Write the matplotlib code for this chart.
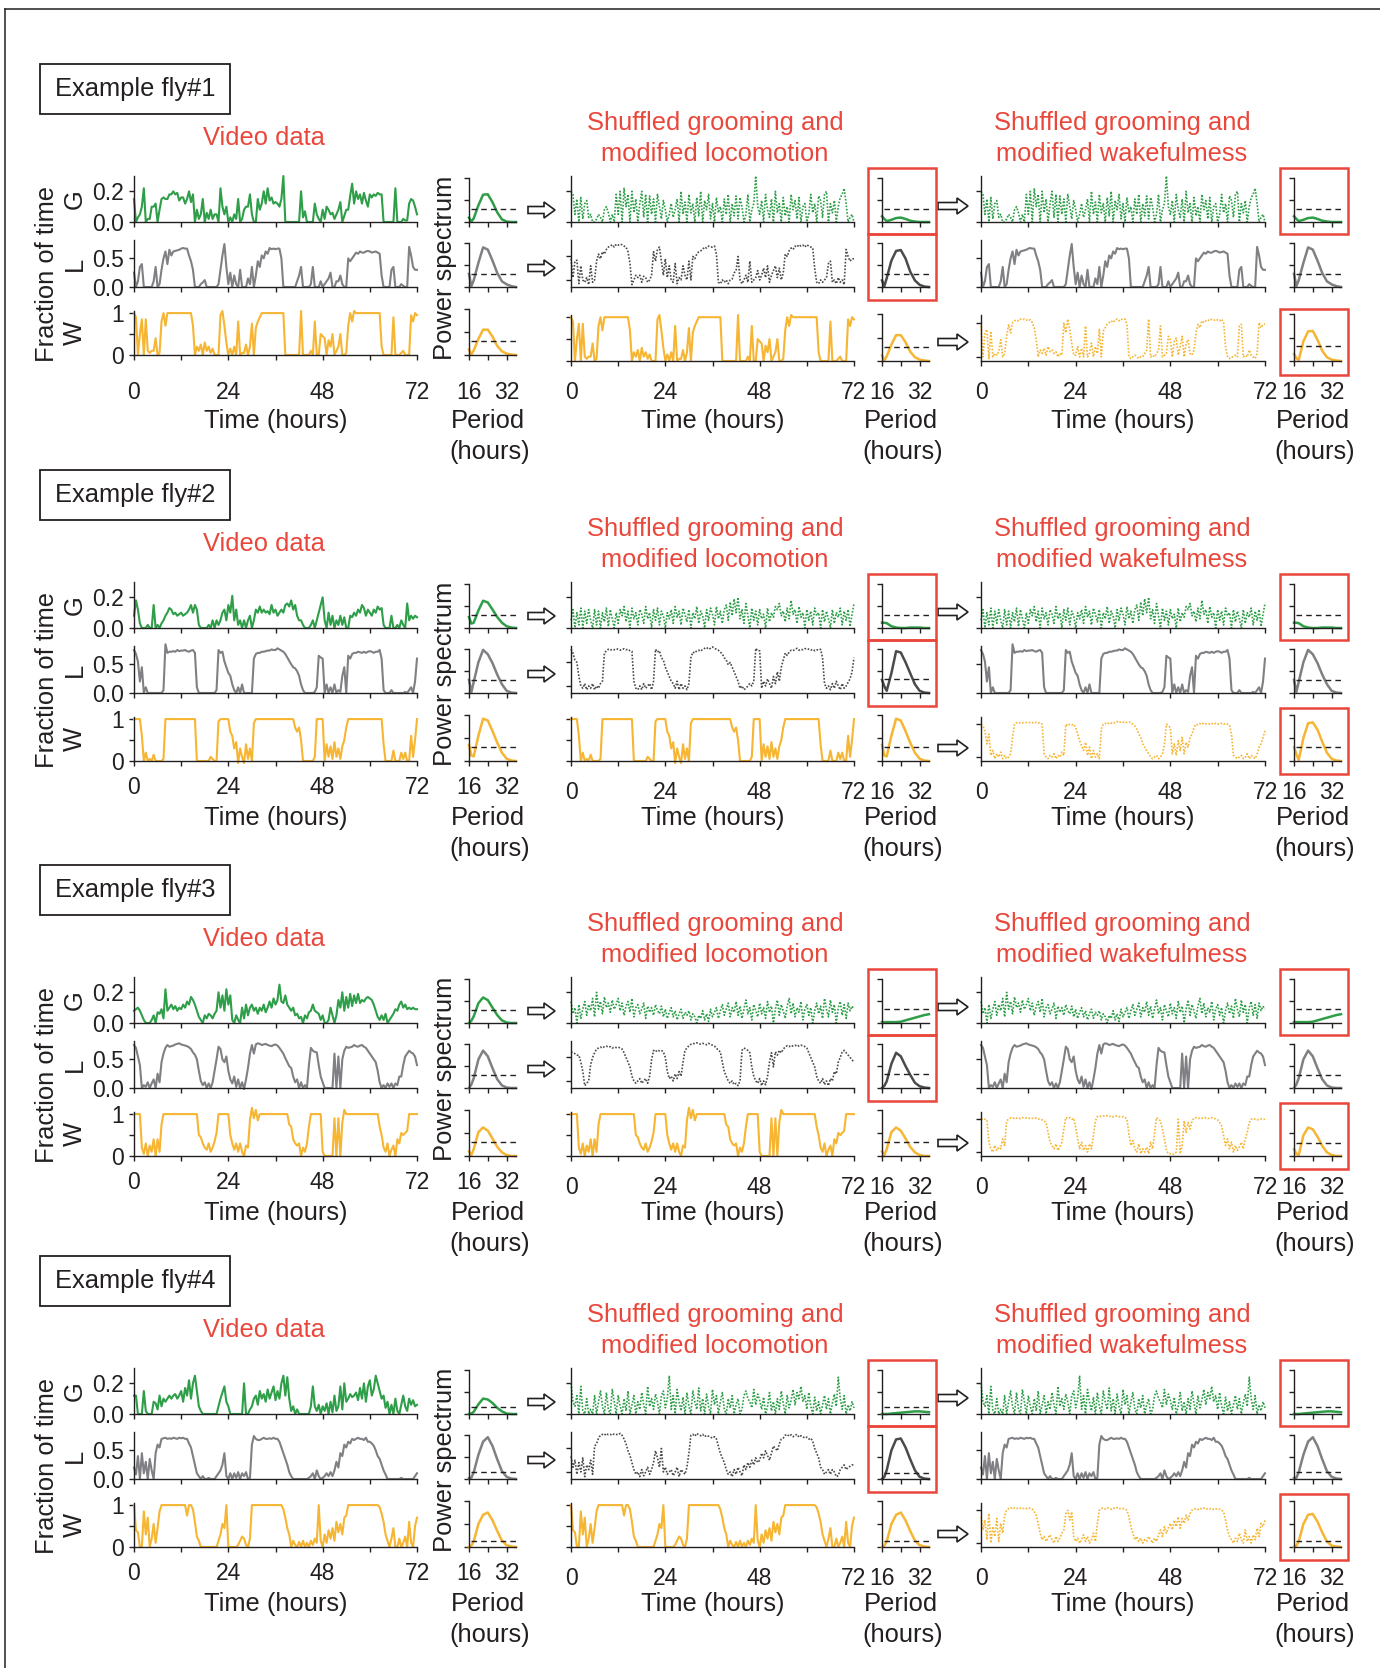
import numpy as np
import matplotlib
matplotlib.use('Agg')
import matplotlib.pyplot as plt
from matplotlib.patches import Rectangle, FancyArrow

plt.rcParams['font.family'] = ['Liberation Sans', 'DejaVu Sans']

W_PX, H_PX, DPI = 1380, 1668, 100

#------------------------ DATA
# time series: half-hour bins from 0 to 72 h, values in hundredths
# G = grooming, L = locomotion, W = wakefulness (video data)
# Gs = shuffled grooming, Lm = modified locomotion, Wm = modified wakefulness
fly1_G = [15, 0, 3, 5, 10, 22, 0, 2, 2, 10, 10, 12,
          0, 8, 15, 16, 15, 15, 18, 18, 20, 18, 19, 14,
          16, 16, 12, 15, 20, 13, 18, 0, 8, 2, 5, 15,
          0, 6, 2, 8, 2, 5, 5, 0, 22, 10, 5, 10,
          0, 3, 0, 5, 2, 15, 0, 2, 8, 10, 10, 18,
          5, 0, 0, 15, 8, 12, 20, 12, 22, 14, 16, 12,
          13, 12, 10, 15, 30, 0, 0, 0, 0, 0, 0, 0,
          0, 20, 3, 7, 0, 0, 0, 0, 12, 5, 2, 0,
          8, 2, 10, 8, 5, 6, 2, 5, 8, 13, 0, 4,
          8, 8, 17, 25, 12, 20, 15, 18, 12, 19, 14, 10,
          18, 16, 18, 17, 19, 18, 18, 0, 0, 0, 0, 0,
          0, 22, 0, 0, 0, 2, 1, 1, 12, 15, 14, 10,
          5]
fly1_L = [25, 0, 10, 35, 40, 0, 0, 0, 0, 0, 10, 35,
          0, 5, 30, 50, 62, 40, 65, 55, 62, 63, 64, 65,
          67, 68, 67, 67, 55, 45, 30, 0, 0, 0, 5, 8,
          12, 0, 0, 0, 0, 0, 0, 5, 30, 55, 75, 35,
          5, 25, 0, 20, 5, 0, 30, 0, 0, 0, 15, 5,
          35, 0, 20, 45, 35, 55, 50, 62, 58, 68, 66, 67,
          66, 67, 67, 50, 0, 0, 0, 0, 0, 0, 0, 10,
          20, 35, 0, 0, 0, 0, 5, 35, 0, 0, 0, 10,
          0, 5, 10, 15, 25, 0, 0, 10, 10, 20, 5, 0,
          0, 50, 45, 50, 55, 60, 58, 62, 60, 60, 62, 63,
          62, 60, 61, 62, 60, 58, 20, 0, 0, 0, 0, 30,
          35, 0, 0, 0, 5, 2, 0, 0, 70, 55, 35, 30,
          30]
fly1_W = [100, 90, 0, 50, 85, 0, 85, 10, 5, 10, 10, 40,
          0, 5, 80, 100, 70, 100, 100, 100, 100, 100, 100, 100,
          100, 100, 100, 100, 100, 100, 70, 0, 20, 10, 25, 0,
          30, 10, 20, 5, 15, 0, 0, 0, 95, 105, 70, 30,
          0, 15, 0, 20, 0, 80, 0, 5, 5, 25, 0, 20,
          75, 0, 65, 80, 90, 100, 100, 100, 100, 100, 100, 100,
          100, 100, 100, 100, 100, 0, 0, 0, 0, 0, 0, 0,
          0, 105, 0, 0, 0, 0, 10, 0, 80, 0, 0, 50,
          45, 40, 0, 35, 20, 50, 0, 10, 20, 50, 0, 0,
          5, 70, 100, 80, 105, 100, 100, 100, 100, 100, 100, 100,
          100, 100, 100, 100, 100, 100, 20, 0, 0, 0, 0, 0,
          90, 0, 0, 0, 5, 10, 0, 0, 0, 95, 80, 100,
          95]
fly1_Gs = [20, 18, 5, 15, 0, 16, 2, 12, 14, 3, 5, 0,
           0, 2, 5, 3, 0, 8, 10, 6, 0, 5, 0, 18,
           5, 20, 0, 22, 10, 18, 0, 20, 6, 15, 0, 12,
           20, 3, 18, 0, 17, 5, 15, 0, 18, 10, 2, 14,
           8, 0, 5, 12, 3, 8, 15, 0, 20, 5, 13, 0,
           18, 6, 12, 0, 16, 4, 20, 0, 14, 8, 18, 2,
           12, 0, 16, 6, 10, 0, 15, 5, 18, 0, 12, 4,
           17, 2, 16, 10, 0, 5, 18, 0, 8, 12, 30, 10,
           5, 14, 0, 18, 8, 3, 15, 0, 20, 6, 12, 0,
           16, 4, 10, 0, 18, 8, 14, 2, 16, 0, 10, 12,
           0, 5, 18, 6, 12, 0, 17, 14, 3, 18, 20, 0,
           12, 6, 14, 0, 10, 16, 18, 22, 12, 0, 3, 5,
           0]
fly1_Lm = [45, 5, 40, 42, -8, 30, 0, -5, 5, -10, 30, -5,
           0, 40, 55, 45, 60, 55, 65, 70, 72, 75, 70, 76,
           74, 76, 75, 72, 70, 60, 35, -10, 0, 10, 5, 10,
           -5, 8, 5, -5, 0, 10, 60, 40, 65, 70, 40, 10,
           45, 5, 30, 0, -5, 35, -8, 5, 0, 30, 10, 0,
           40, 0, 50, 45, 55, 60, 62, 65, 70, 68, 72, 70,
           70, 72, 55, -5, -8, 0, -5, 0, -8, 0, 2, 15,
           20, 50, 0, -8, 0, 10, -5, 40, -5, 0, 5, 20,
           0, 10, 25, 5, 30, -5, 10, 20, 30, 5, 25, 0,
           15, 55, 50, 62, 68, 65, 72, 70, 75, 72, 74, 70,
           75, 72, 70, 68, 25, -5, -8, 0, -5, 0, 5, 35,
           40, -5, 0, -8, 5, -5, 0, -10, 65, 50, 40, 45,
           45]
fly1_Wm = [90, 0, 70, 80, -5, 75, 0, 10, 5, 15, 50, 0,
           10, 60, 95, 70, 100, 105, 108, 105, 110, 108, 110, 108,
           105, 108, 100, 85, 50, 0, 20, 10, 25, 5, 30, 15,
           20, 10, 15, 0, 10, 5, 100, 70, 110, 80, 40, 5,
           5, 30, 0, 25, 0, 90, 0, 10, 40, 0, 30, 10,
           80, 0, 75, 85, 95, 100, 105, 100, 108, 110, 105, 110,
           108, 110, 95, 0, -5, 0, 5, 0, -5, 0, 0, 10,
           20, 110, 0, 5, 0, 10, 20, 90, 0, 5, 10, 60,
           50, 0, 45, 55, 5, 30, 60, 0, 40, 50, 10, 5,
           20, 70, 95, 85, 105, 100, 105, 108, 105, 110, 108, 105,
           108, 105, 110, 100, 30, 0, -5, 0, 0, 5, 0, 90,
           95, 0, 5, 0, 20, 5, 0, -5, 10, 100, 85, 95,
           95]

fly2_G = [8, 18, 12, 3, 0, 0, 0, 2, 0, 0, 15, 0,
          2, 0, 3, 5, 8, 10, 13, 12, 9, 10, 8, 9,
          10, 8, 9, 10, 12, 15, 10, 15, 12, 2, 0, 0,
          0, 0, 2, 0, 5, 0, 5, 2, 5, 10, 12, 5,
          15, 10, 21, 5, 12, 2, 5, 0, 5, 0, 5, 8,
          0, 5, 12, 10, 14, 10, 12, 10, 11, 9, 15, 10,
          12, 8, 10, 12, 10, 15, 16, 14, 18, 12, 15, 8,
          5, 5, 2, 0, 0, 0, 2, 5, 0, 5, 10, 15,
          20, 5, 0, 10, 2, 8, 0, 5, 2, 8, 2, 7,
          0, 0, 8, 7, 10, 8, 12, 10, 15, 13, 8, 12,
          10, 8, 12, 10, 14, 12, 13, 2, 0, 0, 0, 8,
          0, 0, 2, 0, 5, 2, 0, 16, 5, 8, 6, 8,
          7]
fly2_L = [75, 68, 55, 20, 45, 0, 10, 0, 0, 0, 0, 0,
          0, 0, 0, 5, 85, 70, 72, 72, 73, 72, 75, 73,
          74, 74, 75, 73, 72, 74, 75, 70, 10, 0, 0, 0,
          0, 0, 0, 0, 0, 0, 5, 75, 70, 72, 55, 45,
          35, 30, 15, 5, 0, 10, 0, 15, 0, 0, 0, 0,
          0, 60, 68, 70, 70, 72, 72, 73, 74, 74, 76, 75,
          75, 78, 76, 74, 72, 68, 62, 56, 50, 45, 43, 38,
          30, 15, 5, 0, 0, 0, 0, 0, 2, 10, 65, 62,
          60, 0, 15, 0, 10, 0, 15, 0, 5, 2, 30, 45,
          0, 65, 60, 68, 70, 70, 72, 71, 70, 72, 70, 72,
          73, 72, 70, 72, 72, 75, 60, 5, 0, 0, 0, 5,
          0, 0, 0, 0, 0, 0, 2, 0, 5, 10, 0, 20,
          60]
fly2_W = [100, 100, 100, 100, 60, 0, 20, 0, 5, 0, 15, 0,
          0, 0, 0, 5, 100, 100, 100, 100, 100, 100, 100, 100,
          100, 100, 100, 100, 100, 100, 100, 100, 0, 0, 0, 0,
          0, 0, 0, 10, 5, 0, 0, 95, 100, 100, 100, 100,
          100, 70, 60, 30, 45, -5, 30, 10, -5, 40, 5, 30,
          0, 90, 100, 100, 100, 100, 100, 100, 100, 100, 100, 100,
          100, 100, 100, 100, 100, 100, 100, 100, 100, 100, 80, 70,
          80, 50, 0, 0, 0, 0, 0, 0, 10, 100, 100, 100,
          100, 0, 40, 10, 35, 5, 45, 10, 30, 5, 35, 50,
          80, 100, 100, 100, 100, 100, 100, 100, 100, 100, 100, 100,
          100, 100, 100, 100, 100, 100, 100, 40, 0, 0, 0, 0,
          25, 0, 0, 0, 20, 5, 20, 0, 0, 60, 10, 50,
          100]
fly2_Gs = [5, 12, 0, 10, 2, 13, 0, 11, 3, 12, 5, 0,
           12, 2, 11, 0, 10, 4, 13, 1, 12, 6, 0, 10,
           3, 12, 8, 14, 4, 11, 0, 13, 6, 10, 2, 12,
           9, 3, 14, 6, 10, 0, 12, 5, 13, 2, 11, 8,
           0, 10, 6, 12, 3, 14, 7, 11, 2, 13, 9, 4,
           12, 0, 10, 6, 14, 3, 11, 8, 0, 12, 5, 13,
           9, 2, 14, 6, 11, 3, 12, 15, 5, 17, 8, 19,
           10, 20, 6, 12, 3, 16, 8, 0, 13, 5, 11, 2,
           12, 6, 9, 0, 13, 4, 10, 7, 14, 12, 16, 8,
           11, 4, 13, 6, 18, 9, 12, 3, 14, 7, 10, 0,
           12, 5, 11, 2, 13, 8, 10, 0, 12, 4, 11, 6,
           0, 12, 3, 10, 7, 13, 2, 11, 5, 12, 1, 9,
           16]
fly2_Lm = [78, 70, 55, 50, 20, 0, -5, 5, -8, 0, -5, 5,
           -8, 0, -5, 5, 10, 70, 75, 78, 76, 78, 77, 79,
           78, 76, 78, 79, 77, 78, 75, 74, 10, -5, -8, 0,
           -8, 5, -5, 0, 5, -8, 10, 78, 72, 75, 60, 55,
           40, 30, 20, 10, 5, -5, 10, -8, 5, -5, 0, -8,
           5, 60, 72, 70, 75, 76, 74, 78, 80, 82, 78, 80,
           83, 80, 78, 76, 72, 68, 60, 55, 45, 50, 40, 30,
           20, 10, -5, 0, -8, -5, 0, 5, 0, 10, 80, 75,
           75, -5, 10, 0, 15, 5, -5, 20, 5, 30, 10, 40,
           55, 70, 65, 72, 76, 75, 78, 80, 76, 78, 77, 79,
           80, 78, 76, 78, 75, 77, 76, 78, 60, 5, -5, 0,
           -8, 5, -5, 10, 0, -8, 5, -5, 0, 8, 15, 30,
           60]
fly2_Wm = [100, 95, 80, 40, 70, 5, 20, -5, 10, 0, 15, -5,
           5, -5, 0, 10, 60, 100, 105, 103, 105, 104, 106, 105,
           104, 106, 105, 103, 106, 104, 105, 100, 10, 0, -5, 5,
           0, 10, -5, 5, 0, 15, 5, 100, 95, 100, 98, 100,
           90, 70, 50, 35, 20, 45, 5, 30, -5, 20, 0, 10,
           -5, 85, 100, 103, 100, 105, 103, 106, 104, 108, 105, 107,
           106, 108, 105, 107, 104, 100, 95, 85, 70, 60, 40, 30,
           20, 10, 0, -5, 0, 5, -5, 0, 10, 40, 100, 95,
           90, 10, 40, 5, 50, 20, 60, 10, 45, 30, 60, 70,
           90, 100, 98, 102, 100, 104, 101, 103, 100, 102, 99, 103,
           101, 100, 103, 100, 102, 100, 98, 70, 5, 0, -5, 0,
           5, -5, 0, 10, -5, 5, 0, -5, 10, 30, 40, 60,
           80]

fly3_G = [8, 9, 10, 8, 5, 2, 0, 0, 0, 2, 5, 0,
          7, 6, 9, 3, 22, 8, 10, 12, 9, 11, 8, 10,
          9, 12, 10, 14, 12, 17, 15, 12, 8, 4, 2, 0,
          5, 3, 6, 5, 3, 6, 8, 20, 10, 18, 8, 22,
          12, 18, 2, 0, 5, 2, 0, 10, 3, 12, 5, 10,
          12, 8, 10, 6, 10, 8, 12, 7, 10, 14, 10, 16,
          12, 15, 25, 14, 13, 18, 12, 10, 8, 10, 5, 6,
          3, 4, 0, 5, 3, 7, 8, 12, 8, 7, 6, 2,
          5, 0, 0, 2, 10, 5, 0, 5, 15, 10, 20, 8,
          17, 10, 19, 11, 18, 13, 19, 13, 15, 14, 16, 17,
          16, 15, 12, 8, 4, 2, 5, 2, 6, 0, 2, 4,
          6, 9, 8, 12, 14, 10, 12, 9, 10, 9, 10, 9,
          9]
fly3_L = [75, 70, 55, 40, 0, 5, 2, 10, 0, 8, 15, 0,
          25, 10, 45, 60, 70, 75, 72, 73, 74, 76, 77, 78,
          76, 75, 74, 73, 71, 68, 62, 58, 50, 30, 12, 5,
          10, 0, 8, 0, 10, 30, 50, 72, 68, 50, 45, 55,
          30, 15, 8, 20, 2, 15, 0, 10, -2, 15, 35, 60,
          75, 60, 76, 78, 77, 75, 76, 77, 75, 74, 73, 75,
          76, 74, 70, 65, 60, 52, 45, 38, 35, 20, 10, 15,
          0, 10, 0, 5, 0, 40, 70, 65, 63, 62, 40, 20,
          10, 0, 0, 0, 0, 0, 60, 0, 55, 0, 50, 65,
          72, 70, 71, 72, 75, 73, 72, 74, 75, 72, 70, 65,
          60, 55, 50, 45, 30, 10, 0, 5, 0, 8, 2, 8,
          0, 8, 5, 20, 20, 40, 55, 60, 65, 62, 60, 55,
          40]
fly3_W = [100, 100, 100, 100, 20, 5, 30, 0, 25, 10, 40, 0,
          40, 10, 75, 100, 100, 100, 100, 100, 100, 100, 100, 100,
          100, 100, 100, 100, 100, 100, 100, 100, 100, 50, 45, 30,
          20, 15, 30, 10, 20, 35, 55, 100, 100, 100, 100, 100,
          100, 50, 30, 15, 30, 10, 30, 10, 0, 25, 20, 85,
          115, 90, 110, 85, 100, 100, 100, 100, 100, 100, 100, 100,
          100, 100, 100, 100, 100, 100, 100, 75, 70, 40, 30, 25,
          30, 0, 20, 10, 30, 70, 100, 100, 100, 100, 100, 100,
          10, 0, 0, 0, 0, 0, 90, 0, 90, 0, 80, 110,
          100, 100, 100, 100, 100, 100, 100, 100, 100, 100, 100, 100,
          100, 100, 100, 100, 100, 70, 50, 20, 10, 30, 0, 15,
          25, 0, 40, 30, 55, 50, 55, 60, 100, 100, 100, 100,
          100]
fly3_Gs = [14, 6, 10, 0, 12, 3, 9, 14, 5, 12, 8, 16,
           4, 20, 9, 14, 6, 17, 10, 13, 7, 15, 9, 12,
           16, 8, 13, 5, 11, 14, 7, 16, 4, 10, 12, 6,
           9, 13, 3, 11, 7, 10, 5, 12, 8, 6, 11, 4,
           9, 3, 7, 10, 4, 8, 2, 6, 9, 3, 7, 5,
           8, 2, 6, 4, 0, 5, 3, 8, 2, 6, 1, 9,
           4, 7, 10, 3, 8, 12, 5, 9, 13, 4, 10, 7,
           14, 5, 11, 3, 9, 15, 6, 10, 2, 12, 8, 4,
           13, 6, 10, 3, 14, 7, 11, 0, 9, 15, 5, 12,
           8, 3, 11, 16, 6, 13, 4, 10, 7, 14, 2, 9,
           12, 5, 10, 0, 8, 13, 6, 11, 3, 16, 9, 4,
           15, 7, 12, 0, 10, 14, 5, 12, 3, 13, 8, 11,
           9]
fly3_Lm = [62, 60, 58, 55, 55, 40, 20, -10, -5, 0, 35, 50,
           60, 68, 70, 72, 70, 73, 74, 72, 73, 70, 72, 71,
           72, 70, 68, 60, 50, 40, 30, 10, 0, -5, 0, 5,
           -5, 0, 5, -5, 10, 45, 65, 62, 66, 64, 65, 62,
           50, 20, 5, 10, 0, 15, 5, 20, 10, 40, 65, 70,
           75, 78, 80, 79, 81, 80, 78, 80, 79, 77, 80, 78,
           76, 74, 70, 65, 62, 40, 20, 10, 0, -5, 0, -8,
           -5, -10, 0, 65, 70, 68, 65, 60, 30, 10, 0, -5,
           5, -10, 0, -8, 10, 40, 60, 30, 62, 55, 65, 60,
           68, 72, 75, 73, 76, 74, 75, 77, 74, 76, 75, 73,
           70, 60, 50, 40, 30, 10, 0, -5, 5, -8, 0, -10,
           5, 0, 20, 15, 40, 50, 62, 65, 60, 55, 50, 45,
           40]
fly3_Wm = [100, 102, 100, 98, 30, 10, 0, 20, 5, 15, 10, 40,
           20, 95, 100, 104, 102, 105, 103, 104, 102, 105, 103, 104,
           102, 104, 103, 102, 104, 101, 100, 98, 95, 90, 60, 30,
           20, 10, 25, 5, 15, 30, 70, 105, 102, 105, 100, 103,
           75, 40, 10, 30, 5, 20, 0, 25, 10, 50, 95, 108,
           110, 108, 110, 109, 111, 108, 110, 107, 109, 110, 108, 107,
           108, 106, 100, 55, 20, 35, 10, 0, 25, -5, 10, 0,
           15, -5, 30, 10, 60, 105, 100, 95, 70, 40, 5, -5,
           -5, -8, -5, 0, 100, -5, 20, 95, 60, 90, 70, 95,
           103, 105, 102, 104, 103, 105, 104, 102, 103, 105, 104, 100,
           98, 90, 80, 50, 20, 40, 10, 30, 0, 20, 5, 15,
           30, 10, 40, 60, 90, 100, 102, 100, 98, 100, 101, 99,
           100]

fly4_G = [12, 12, 0, 0, 0, 15, 2, 0, 0, 0, 8, 7,
          3, 12, 5, 10, 8, 10, 12, 10, 12, 13, 10, 12,
          15, 8, 17, 12, 22, 10, 20, 25, 15, 5, 2, 0,
          0, 0, 0, 0, 0, 0, 0, 5, 10, 14, 18, 8,
          5, 0, 0, 0, 0, 0, 0, 0, 20, 0, 0, 3,
          5, 10, 12, 6, 15, 10, 13, 8, 16, 10, 14, 18,
          9, 15, 10, 20, 25, 12, 24, 10, 2, 5, 0, 3,
          0, 0, 0, 0, 0, 0, 5, 18, 5, 2, 6, 0,
          5, 2, 7, 0, 8, 1, 12, 2, 5, 18, 3, 20,
          8, 10, 13, 11, 12, 14, 9, 17, 10, 20, 8, 18,
          22, 12, 16, 25, 20, 15, 10, 12, 4, 8, 0, 6,
          0, 10, 2, 0, 6, 12, 5, 2, 10, 6, 9, 5,
          6]
fly4_L = [20, 8, 40, 0, 45, 10, 30, 0, 35, 15, 0, 45,
          60, 55, 70, 71, 72, 70, 71, 70, 72, 71, 70, 72,
          71, 72, 70, 70, 62, 55, 40, 25, 10, 5, 0, 5,
          0, 0, 2, 0, 0, 0, 5, 10, 15, 25, 45, 5,
          0, 10, 0, 10, 2, 12, 0, 10, 5, 12, 0, 2,
          60, 75, 70, 68, 68, 70, 72, 70, 70, 71, 70, 72,
          70, 70, 65, 55, 45, 35, 25, 12, 5, 0, 0, 0,
          0, 0, 0, 0, 0, 2, 5, 10, 0, 15, 5, 0,
          2, 5, 10, 5, 12, 5, 15, 30, 20, 45, 40, 60,
          55, 65, 62, 70, 68, 70, 72, 70, 70, 68, 72, 65,
          65, 62, 58, 50, 40, 35, 25, 15, 8, 0, 0, 0,
          0, 0, 0, 0, 2, 0, 0, 0, 0, 0, 0, 5,
          10]
fly4_W = [100, 40, 35, 0, 0, 85, 30, 70, 0, 20, 55, 10,
          45, 85, 100, 100, 100, 100, 100, 100, 100, 100, 100, 100,
          100, 100, 100, 75, 100, 100, 90, 60, 25, 15, 0, 0,
          0, 0, 0, 0, 0, 0, 0, 15, 30, 55, 45, 100,
          0, 0, 0, 0, 0, 5, 15, 25, 20, 5, 0, 20,
          100, 100, 100, 100, 100, 100, 100, 100, 100, 100, 100, 100,
          100, 100, 100, 100, 90, 70, 45, 30, 0, 15, 5, 0,
          12, 0, 15, 0, 10, 0, 15, 5, 20, 10, 100, 15,
          0, 30, 10, 40, 20, 45, 15, 60, 35, 55, 30, 70,
          75, 100, 100, 100, 100, 100, 100, 100, 100, 100, 100, 100,
          100, 100, 100, 100, 100, 95, 80, 60, 30, 15, 0, 20,
          45, 0, 0, 20, 0, 10, 25, 0, 60, 10, 0, 50,
          70]
fly4_Gs = [20, 8, 5, 12, 0, 18, 2, 0, 10, 0, 3, 0,
           12, 0, 8, 15, 5, 0, 14, 3, 0, 16, 8, 0,
           12, 5, 0, 10, 2, 15, 0, 6, 12, 0, 8, 3,
           14, 6, 0, 18, 5, 10, 3, 13, 8, 0, 12, 15,
           4, 10, 25, 3, 12, 0, 16, 8, 2, 11, 0, 14,
           5, 0, 15, 8, 3, 17, 2, 10, 0, 13, 5, 0,
           16, 6, 12, 0, 8, 14, 3, 0, 10, 4, 12, 0,
           6, 10, 0, 3, 12, 15, 10, 8, 4, 16, 6, 13,
           9, 3, 11, 0, 5, 14, 2, 8, 0, 10, 3, 15,
           7, 0, 12, 4, 9, 16, 6, 14, 10, 18, 8, 12,
           3, 14, 5, 0, 11, 2, 8, 0, 6, 12, 3, 10,
           0, 7, 13, 5, 24, 10, 3, 12, 0, 6, 2, 8,
           4]
fly4_Lm = [33, 10, 25, -5, 20, 0, 30, -10, 15, 5, 25, -5,
           55, 60, 72, 78, 80, 78, 82, 79, 80, 78, 81, 80,
           79, 82, 78, 70, 60, 45, 35, 20, 5, -5, 0, -10,
           5, -8, 0, 10, -5, 5, 20, 45, 30, 10, 50, 0,
           10, -5, 0, 5, -8, 0, 10, -10, 5, 0, -5, 10,
           40, 78, 80, 76, 82, 79, 77, 80, 75, 78, 76, 74,
           72, 75, 70, 55, 40, 30, 20, 5, -5, 0, -10, 5,
           -5, 10, 0, -8, 15, 5, 20, 10, 25, 15, 30, 20,
           25, 40, 30, 45, 35, 25, 40, 55, 50, 45, 60, 70,
           72, 78, 80, 76, 79, 75, 78, 80, 74, 77, 75, 72,
           74, 70, 72, 65, 50, 40, 30, 10, 5, -5, 0, 5,
           -5, 5, 0, -10, -8, 5, 10, 15, 5, 10, 12, 15,
           15]
fly4_Wm = [80, 40, 70, 10, 90, 0, 50, 20, 75, 5, 60, 30,
           85, 100, 105, 108, 104, 107, 105, 108, 106, 104, 107, 105,
           108, 105, 103, 95, 85, 60, 30, 10, 20, 5, 15, 25,
           10, 0, 20, 5, 15, 30, 40, 90, 100, 70, 95, 20,
           5, 15, 0, 10, 25, 5, 20, 0, 10, 30, 5, 60,
           100, 105, 107, 104, 108, 106, 103, 107, 105, 108, 104, 106,
           105, 103, 100, 80, 50, 30, 10, 20, 5, 15, 0, 10,
           5, 20, 10, 0, 15, 5, 25, 40, 20, 50, 30, 45,
           60, 40, 70, 50, 80, 45, 75, 60, 85, 70, 90, 100,
           103, 105, 102, 106, 104, 107, 103, 105, 104, 106, 102, 104,
           105, 103, 100, 95, 70, 40, 20, 10, 0, 15, 5, 30,
           10, 0, 40, 5, 20, 0, 25, 10, 45, 20, 60, 50,
           70]

# power spectra (relative units, hundredths) against period in hours
periods = [16, 17, 18, 20, 22, 24, 26, 28, 30, 32, 34, 36]
fly1_psG = [10, 1, 8, 38, 62, 63, 45, 22, 6, 1, 0, 0]
fly1_psL = [30, 2, 15, 55, 90, 85, 60, 32, 13, 6, 2, 0]
fly1_psW = [12, 1, 10, 35, 55, 55, 40, 20, 8, 3, 1, 0]
fly1_psGs = [13, 7, 2, 5, 9, 10, 7, 3, 1, 0, 0, 0]
fly1_psLm = [15, 2, 20, 60, 82, 84, 65, 35, 15, 5, 1, 0]
fly1_psWm = [15, 6, 2, 42, 63, 64, 45, 22, 8, 3, 1, 0]
fly2_psG = [25, 10, 12, 40, 62, 58, 42, 25, 12, 4, 1, 0]
fly2_psL = [30, 2, 25, 70, 98, 88, 68, 42, 20, 5, 1, 0]
fly2_psW = [35, 12, 10, 55, 92, 88, 65, 40, 18, 5, 1, 0]
fly2_psGs = [12, 12, 11, 4, 1, 0, 0, 1, 1, 1, 0, 0]
fly2_psLm = [30, 15, 5, 45, 95, 92, 70, 45, 20, 5, 1, 0]
fly2_psWm = [30, 15, 2, 50, 82, 84, 68, 42, 18, 5, 1, 0]
fly3_psG = [0, 5, 15, 45, 58, 52, 35, 18, 6, 1, 0, 0]
fly3_psL = [0, 8, 22, 65, 85, 72, 45, 20, 6, 1, 0, 0]
fly3_psW = [10, 2, 15, 52, 62, 55, 38, 20, 8, 2, 0, 0]
fly3_psGs = [2, 2, 2, 2, 2, 3, 6, 9, 12, 15, 18, 20]
fly3_psLm = [0, 5, 15, 55, 80, 72, 50, 30, 12, 4, 1, 0]
fly3_psWm = [15, 5, 2, 45, 62, 58, 42, 22, 8, 2, 0, 0]
fly4_psG = [0, 1, 5, 22, 35, 33, 25, 14, 6, 1, 0, 0]
fly4_psL = [2, 3, 15, 55, 85, 95, 75, 45, 18, 5, 1, 0]
fly4_psW = [0, 3, 12, 50, 70, 75, 58, 35, 14, 4, 1, 0]
fly4_psGs = [0, 0, 0, 1, 2, 3, 4, 5, 6, 6, 5, 4]
fly4_psLm = [0, 5, 20, 65, 90, 92, 72, 45, 20, 5, 1, 0]
fly4_psWm = [0, 3, 12, 50, 70, 72, 55, 32, 12, 3, 1, 0]

# significance thresholds (dashed lines): G, L, W, Gs, Lm, Wm
fly1_thr = [0.29, 0.30, 0.30, 0.30, 0.30, 0.31]
fly2_thr = [0.30, 0.30, 0.30, 0.30, 0.31, 0.30]
fly3_thr = [0.30, 0.30, 0.30, 0.31, 0.31, 0.29]
fly4_thr = [0.15, 0.15, 0.14, 0.16, 0.13, 0.14]

fly_names = ['Example fly#1', 'Example fly#2', 'Example fly#3', 'Example fly#4']
col_titles = ['Video data',
              'Shuffled grooming and\nmodified locomotion',
              'Shuffled grooming and\nmodified wakefulmess']

flies = [
    dict(G=fly1_G, L=fly1_L, W=fly1_W, Gs=fly1_Gs, Lm=fly1_Lm, Wm=fly1_Wm,
         psG=fly1_psG, psL=fly1_psL, psW=fly1_psW, psGs=fly1_psGs, psLm=fly1_psLm, psWm=fly1_psWm,
         thr=fly1_thr),
    dict(G=fly2_G, L=fly2_L, W=fly2_W, Gs=fly2_Gs, Lm=fly2_Lm, Wm=fly2_Wm,
         psG=fly2_psG, psL=fly2_psL, psW=fly2_psW, psGs=fly2_psGs, psLm=fly2_psLm, psWm=fly2_psWm,
         thr=fly2_thr),
    dict(G=fly3_G, L=fly3_L, W=fly3_W, Gs=fly3_Gs, Lm=fly3_Lm, Wm=fly3_Wm,
         psG=fly3_psG, psL=fly3_psL, psW=fly3_psW, psGs=fly3_psGs, psLm=fly3_psLm, psWm=fly3_psWm,
         thr=fly3_thr),
    dict(G=fly4_G, L=fly4_L, W=fly4_W, Gs=fly4_Gs, Lm=fly4_Lm, Wm=fly4_Wm,
         psG=fly4_psG, psL=fly4_psL, psW=fly4_psW, psGs=fly4_psGs, psLm=fly4_psLm, psWm=fly4_psWm,
         thr=fly4_thr),
]

#------------------------ STYLE / LAYOUT (pixels, origin top-left)
GREEN = '#2E9E48'
GRAY = '#808084'
DARK = '#4B4B4B'
ORANGE = '#F6B532'
RED = '#E9473B'
INK = '#231F20'

LABEL_FS = 18.4
TICK_FS = 16.5
TICK_LEN = 3.6
PT = 72.0 / DPI

FLY_DY = [0, 406, 801, 1192]
COL_X = [(134, 417), (571, 854), (981, 1265)]
PS_X = [(469, 516), (882, 929), (1294, 1341)]
ROW_Y = [(176, 222), (240, 287), (311, 355)]
ROW_Y_SHIFT_W = (315, 361)      # W row of the shuffled columns, fly #1 only
PS_Y = [(178, 222), (243, 287), (309, 355)]
PS_Y_SHIFT_W = (314, 361)

YSET = {'G': ((0, 0.3), [0, 0.2], ['0.0', '0.2']),
        'L': ((0, 0.82), [0, 0.5], ['0.0', '0.5']),
        'W': ((0, 1.05), [0, 0.5, 1], ['0', '', '1']),
        'Lm': ((-0.15, 0.85), [0, 0.5], None),
        'Wm': ((-0.12, 1.22), [0, 1], None)}

fig = plt.figure(figsize=(W_PX / DPI, H_PX / DPI), dpi=DPI)
fig.patch.set_facecolor('white')


def add_ax(x0, x1, y0, y1):
    return fig.add_axes([x0 / W_PX, 1 - y1 / H_PX, (x1 - x0) / W_PX, (y1 - y0) / H_PX])


def style(ax):
    for s in ('top', 'right'):
        ax.spines[s].set_visible(False)
    for s in ('left', 'bottom'):
        ax.spines[s].set_linewidth(1.0)
        ax.spines[s].set_color(INK)
    ax.set_facecolor('none')
    ax.tick_params(direction='out', length=TICK_LEN, width=1.0, color=INK,
                   labelsize=TICK_FS, labelcolor=INK)


def xpad(label_y, bottom):
    # pad (pt) so the tick label digits are centred on label_y
    return (label_y - 0.36 * TICK_FS / PT - bottom - TICK_LEN / PT) * PT


def time_panel(xs, ys, vals, kind, color, dotted, with_ylabels, label_y):
    ax = add_ax(xs[0], xs[1], ys[0], ys[1])
    style(ax)
    v = np.array(vals) / 100.0
    t = np.linspace(0, 72, len(v))
    if dotted:
        ax.plot(t, v, color=color, lw=1.2, ls=(0, (1, 1)), clip_on=False)
    else:
        ax.plot(t, v, color=color, lw=1.5, clip_on=False)
    ylim, yt, ylab = YSET[kind]
    ax.set_xlim(0, 72)
    ax.set_ylim(*ylim)
    ax.set_yticks(yt)
    if with_ylabels and ylab is not None:
        ax.set_yticklabels(ylab)
        ax.tick_params(axis='y', pad=3.5)
    else:
        ax.set_yticklabels([])
    ax.set_xticks(np.arange(0, 73, 12))
    if label_y is not None:
        ax.set_xticklabels(['0', '', '24', '', '48', '', '72'])
        ax.tick_params(axis='x', pad=xpad(label_y, ys[1]))
    else:
        ax.set_xticklabels([])
    return ax


def ps_panel(xs, ys, vals, thr, color, label_y):
    ax = add_ax(xs[0], xs[1], ys[0], ys[1])
    style(ax)
    ax.plot(periods, np.array(vals) / 100.0, color=color, lw=1.8, clip_on=False)
    ax.plot([17, 36], [thr, thr], color=INK, lw=1.0, ls=(0, (4, 3)))
    ax.set_xlim(16, 36)
    ax.set_ylim(0, 1)
    ax.set_yticks([0, 0.5, 1])
    ax.set_yticklabels([])
    ax.set_xticks([16, 24, 32])
    if label_y is not None:
        ax.set_xticklabels(['16', '', '32'])
        ax.tick_params(axis='x', pad=xpad(label_y, ys[1]))
    else:
        ax.set_xticklabels([])
    return ax


# which series go where: (series key, axis kind, colour, dotted, spectrum key, threshold index)
columns = [
    [('G', 'G', GREEN, False, 'psG', 0), ('L', 'L', GRAY, False, 'psL', 1), ('W', 'W', ORANGE, False, 'psW', 2)],
    [('Gs', 'G', GREEN, True, 'psGs', 3), ('Lm', 'Lm', DARK, True, 'psLm', 4), ('W', 'W', ORANGE, False, 'psW', 2)],
    [('Gs', 'G', GREEN, True, 'psGs', 3), ('L', 'L', GRAY, False, 'psL', 1), ('Wm', 'Wm', ORANGE, True, 'psWm', 5)],
]
red_boxes = [(1, 0), (1, 1), (2, 0), (2, 2)]

for k, fly in enumerate(flies):
    dy = FLY_DY[k]
    tick_y = ROW_Y[2][1] + dy + (34 if k == 0 else 23)
    for c, col in enumerate(columns):
        for r, (key, kind, color, dotted, pskey, ti) in enumerate(col):
            shifted = (r == 2 and c > 0 and k == 0)
            ys = ROW_Y_SHIFT_W if shifted else ROW_Y[r]
            pys = PS_Y_SHIFT_W if shifted else PS_Y[r]
            ys = (ys[0] + dy, ys[1] + dy)
            pys = (pys[0] + dy, pys[1] + dy)
            lab_y = None
            if r == 2:
                lab_y = tick_y + (5 if (c > 0 and k > 0) else 0)
            time_panel(COL_X[c], ys, fly[key], kind, color, dotted, c == 0, lab_y)
            ps_panel(PS_X[c], pys, fly[pskey], fly['thr'][ti], color, lab_y)

#------------------------ OVERLAY (texts, boxes, arrows)
ov = fig.add_axes([0, 0, 1, 1], zorder=10)
ov.set_xlim(0, W_PX)
ov.set_ylim(H_PX, 0)
ov.axis('off')

ov.plot([5, 5], [9, H_PX], color=INK, lw=1.1, clip_on=False)
ov.plot([5, W_PX], [9, 9], color=INK, lw=1.1, clip_on=False)


def arrow(x0, x1, y):
    ov.add_patch(FancyArrow(x0, y, x1 - x0, 0, width=7, head_width=16, head_length=11,
                            length_includes_head=True, fc='white', ec=INK, lw=1.2))


for k in range(len(flies)):
    dy = FLY_DY[k]
    ov.add_patch(Rectangle((40, 64 + dy), 190, 50, fill=False, ec=INK, lw=1.3))
    ov.text(135, 89 + dy, fly_names[k], ha='center', va='center', fontsize=LABEL_FS, color=INK)

    ov.text(264, 138 + dy, col_titles[0], ha='center', va='center', fontsize=LABEL_FS, color=RED)
    for cx, title in [(715, col_titles[1]), (1122, col_titles[2])]:
        l1, l2 = title.split('\n')
        ov.text(cx, 123 + dy, l1, ha='center', va='center', fontsize=LABEL_FS, color=RED)
        ov.text(cx, 154 + dy, l2, ha='center', va='center', fontsize=LABEL_FS, color=RED)

    ov.text(47, 274 + dy, 'Fraction of time', rotation=90, ha='center', va='center',
            fontsize=LABEL_FS, color=INK)
    for name, (y0, y1) in zip(['G', 'L', 'W'], ROW_Y):
        ov.text(75, (y0 + y1) / 2 + dy, name, rotation=90, ha='center', va='center',
                fontsize=LABEL_FS, color=INK)
    ov.text(445, 268 + dy, 'Power spectrum', rotation=90, ha='center', va='center',
            fontsize=LABEL_FS, color=INK)

    lab_y = ROW_Y[2][1] + dy + (66 if k == 0 else 57)
    for c in range(3):
        ov.text((COL_X[c][0] + COL_X[c][1]) / 2, lab_y, 'Time (hours)', ha='center', va='center',
                fontsize=LABEL_FS, color=INK)
        px = (PS_X[c][0] + PS_X[c][1]) / 2 - 5
        ov.text(px, lab_y, 'Period', ha='center', va='center', fontsize=LABEL_FS, color=INK)
        ov.text(px + 2, lab_y + 31, '(hours)', ha='center', va='center', fontsize=LABEL_FS, color=INK)

    arrow(528, 555, 210 + dy)
    arrow(528, 555, 268 + dy)
    arrow(938, 968, 206 + dy)
    arrow(938, 968, 342 + dy)

    for c, r in red_boxes:
        x0 = PS_X[c][0] - 14
        if r == 2:
            top = 309 if k == 0 else 302
            ov.add_patch(Rectangle((x0, top + dy), 68, 66, fill=False, ec=RED, lw=1.8))
        else:
            ov.add_patch(Rectangle((x0, 168 + 66 * r + dy), 68, 66, fill=False, ec=RED, lw=1.8))

fig.savefig('out.png', dpi=DPI, facecolor='white')
